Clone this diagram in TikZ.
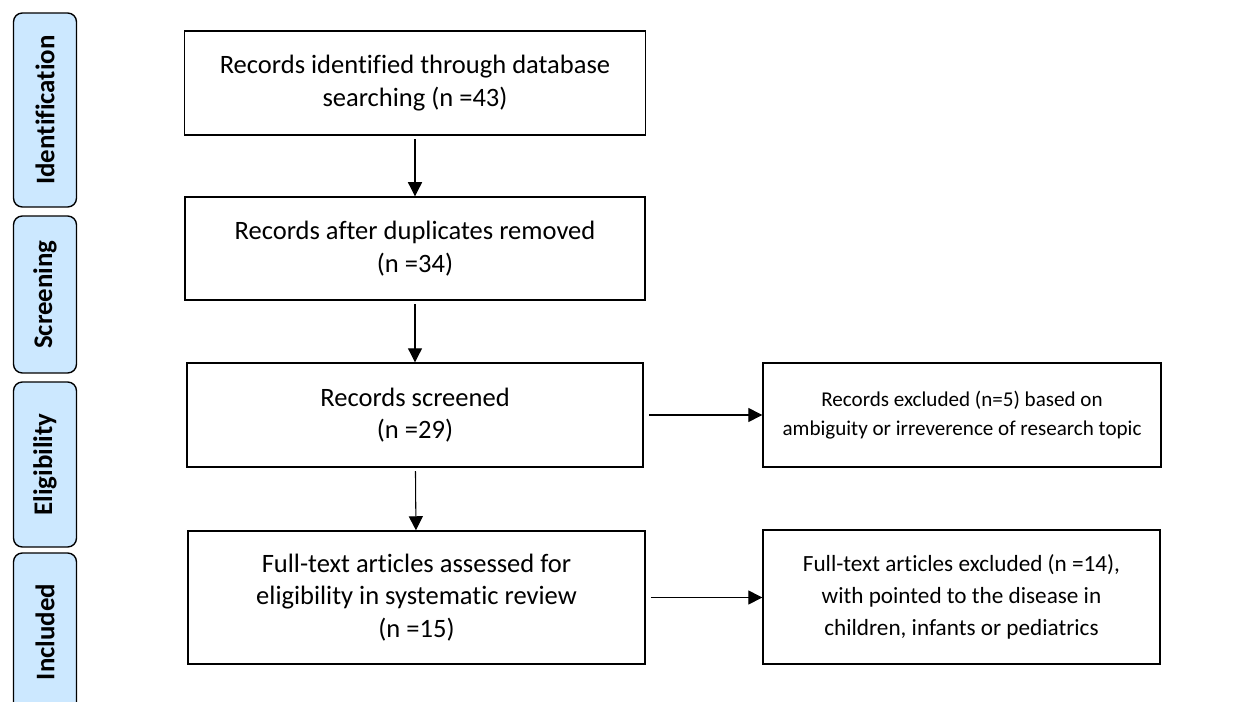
\documentclass[tikz,border=0pt]{standalone}
\usepackage{fontspec}
\setmainfont{Carlito}[Ligatures=NoCommon]
\usetikzlibrary{arrows.meta}
\definecolor{tabblue}{RGB}{204,232,255}

\begin{document}
\begin{tikzpicture}[x=0.02cm, y=-0.02cm,
	box/.style={draw, line width=0.8pt, align=center, inner sep=0pt, font=\fontsize{15.1}{18.5}\selectfont},
	tab/.style={draw, line width=0.8pt, fill=tabblue, rounded corners=5pt, rotate=90, minimum height=1.26cm, font=\fontsize{15.3}{18}\selectfont\bfseries},
	arr/.style={-{Triangle[length=8pt,width=8pt]}, line width=0.6pt}]
	\useasboundingbox (0,0) rectangle (1243,702);
	\clip (0,0) rectangle (1243,702);
	% stage tabs on the left
	\foreach \n/\y/\h/\t in {identtab/110/3.88/Identification, screentab/294.5/3.14/Screening, eligtab/464.5/3.3/Eligibility, incltab/632/3.16/Included}
		\node[tab, minimum width=\h cm] (\n) at (45,\y) {\t};
	% main column
	\node[box, minimum width=9.22cm, minimum height=2.08cm] (found) at (415,83) {Records identified through database\\searching (n =43)};
	\node[box, minimum width=9.2cm, minimum height=2.06cm] (dedup) at (415,248.5) {Records after duplicates removed\\(n =34)};
	\node[box, minimum width=9.12cm, minimum height=2.08cm] (screened) at (415,415) {Records screened\\(n =29)};
	\node[box, minimum width=9.14cm, minimum height=2.66cm] (fulltext) at (416.5,597.5) {Full-text articles assessed for\\eligibility in systematic review\\(n =15)};
	% exclusions
	\node[box, minimum width=7.96cm, minimum height=2.08cm, font=\fontsize{12}{16.4}\selectfont] (excl) at (962,415) {Records excluded (n=5) based on\\ambiguity or irreverence of research topic};
	\node[box, minimum width=7.94cm, minimum height=2.68cm, font=\fontsize{13.2}{18}\selectfont] (fullexcl) at (961.5,597) {Full-text articles excluded (n =14),\\with pointed to the disease in\\children, infants or pediatrics};
	\draw[arr, shorten <=2pt] (found) -- (dedup);
	\draw[arr, shorten <=2pt] (dedup) -- (screened);
	\draw[arr, shorten <=2pt] (screened) -- (fulltext);
	\draw[arr, shorten <=3pt] (screened) -- (excl);
	\draw[arr, shorten <=3pt] (fulltext.east) -- (fullexcl.west |- fulltext.east);
\end{tikzpicture}
\end{document}
